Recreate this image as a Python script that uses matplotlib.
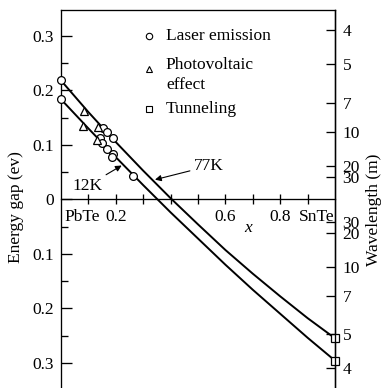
import numpy as np
import matplotlib.pyplot as plt
from matplotlib.ticker import FuncFormatter

plt.rcParams['font.family'] = ['Liberation Serif', 'DejaVu Serif']
plt.rcParams['font.size'] = 12.5
plt.rcParams['mathtext.fontset'] = 'stix'

# Composition x of Pb(1-x)Sn(x)Te and energy gap (eV) for the two temperatures
x_curve = [0.0, 0.1, 0.2, 0.3, 0.4, 0.5, 0.6, 0.7, 0.8, 0.9, 1.0]
gap_77k = [0.218, 0.160, 0.105, 0.0525, 0.002, -0.046, -0.093, -0.1365, -0.178, -0.218, -0.255]
gap_12k = [0.1835, 0.130, 0.0773, 0.026, -0.024, -0.072, -0.120, -0.166, -0.210, -0.254, -0.296]

# Measurements
laser_x = [0.0, 0.0, 0.154, 0.169, 0.189, 0.141, 0.150, 0.168, 0.188, 0.186, 0.264]
laser_gap = [0.218, 0.184, 0.131, 0.123, 0.113, 0.112, 0.103, 0.092, 0.084, 0.077, 0.043]
photo_x = [0.084, 0.079, 0.136, 0.130]
photo_gap = [0.162, 0.135, 0.133, 0.109]
tunnel_x = [1.0, 1.0]
tunnel_gap = [-0.255, -0.296]

# Axis ticks
gap_major = [-0.3, -0.2, -0.1, 0.0, 0.1, 0.2, 0.3]
gap_minor = [-0.25, -0.15, -0.05, 0.05, 0.15, 0.25]
wavelengths = [4, 5, 7, 10, 20, 30]
x_ticks = [0.1, 0.2, 0.3, 0.4, 0.5, 0.6, 0.7, 0.8, 0.9]
x_labels = [(0.2, '0.2'), (0.6, '0.6'), (0.8, '0.8')]

W, H = 384, 388
fig = plt.figure(figsize=(W / 100, H / 100), dpi=100)
ax = fig.add_axes([61 / W, 0, 274 / W, 378 / H])
ax.set_xlim(0, 1)
ax.set_ylim(-0.3462, 0.3473)

for s in ['left', 'right', 'top', 'bottom']:
    ax.spines[s].set_linewidth(0.95)
ax.spines['bottom'].set_position(('data', 0))

ax.set_xticks(x_ticks)
ax.set_xticklabels([])
ax.tick_params(axis='x', direction='inout', length=6.5, width=0.95)

ax.set_yticks(gap_major)
ax.set_yticks(gap_minor, minor=True)
ax.yaxis.set_major_formatter(FuncFormatter(lambda v, p: '0' if abs(v) < 1e-9 else f'{abs(v):.1f}'))
ax.tick_params(axis='y', which='major', direction='in', length=7.7, width=0.95, pad=5)
ax.tick_params(axis='y', which='minor', direction='in', length=5.3, width=0.95)

# Wavelength scale on the right: lambda (um) = 1.24 / E (eV), mirrored for negative gaps
ax2 = ax.twinx()
ax2.set_ylim(ax.get_ylim())
for s in ['left', 'top', 'bottom']:
    ax2.spines[s].set_visible(False)
ax2.spines['right'].set_linewidth(0.95)
wl_pos = [1.24 / w for w in wavelengths] + [-1.24 / w for w in wavelengths]
wl_lab = [str(w) for w in wavelengths] * 2
ax2.set_yticks(wl_pos)
ax2.set_yticklabels(wl_lab)
ax2.tick_params(axis='y', direction='in', length=6.3, width=0.95, pad=5.5)

# Curves
ax.plot(x_curve, gap_77k, color='black', lw=1.4, zorder=3)
ax.plot(x_curve, gap_12k, color='black', lw=1.4, zorder=3)

mk = dict(linestyle='none', markerfacecolor='white', markeredgecolor='black',
          markeredgewidth=0.9, clip_on=False, zorder=4)
ax.plot(laser_x, laser_gap, marker='o', markersize=5.6, **mk)
ax.plot(photo_x, photo_gap, marker='^', markersize=5.5, **mk)
ax.plot(tunnel_x, tunnel_gap, marker='s', markersize=5.8, **mk)

# Composition labels along the x axis
ax.text(0.014, -0.017, 'PbTe', ha='left', va='top')
for xv, lab in x_labels:
    ax.text(xv, -0.017, lab, ha='center', va='top')
ax.text(1.0, -0.017, 'SnTe', ha='right', va='top')
ax.text(0.684, -0.053, 'x', ha='center', va='center', style='italic')

# Temperature annotations
arrow = dict(arrowstyle='-|>', lw=0.8, color='black', mutation_scale=9,
             shrinkA=1, shrinkB=0)
ax.annotate('12K', xy=(0.2215, 0.062), xytext=(0.095, 0.0244),
            ha='center', va='center', arrowprops=arrow)
ax.annotate('77K', xy=(0.343, 0.036), xytext=(0.540, 0.061),
            ha='center', va='center', arrowprops=arrow)

# Key
key = [('o', 'Laser emission', 0.931, 0.931),
       ('^', 'Photovoltaic\neffect', 0.844, 0.827),
       ('s', 'Tunneling', 0.738, 0.738)]
for m, lab, ym, yt in key:
    ax.plot([0.321], [ym], marker=m, markersize=4.6, transform=ax.transAxes,
            linestyle='none', markerfacecolor='white', markeredgecolor='black',
            markeredgewidth=0.8)
    ax.text(0.383, yt, lab, transform=ax.transAxes, ha='left', va='center',
            linespacing=1.35)

fig.text(16 / W, 1 - 207 / H, 'Energy gap (ev)', rotation=90, ha='center', va='center')
fig.text(374 / W, 1 - 210 / H, 'Wavelength (m)', rotation=90, ha='center', va='center')

fig.savefig('out.png', dpi=100)
